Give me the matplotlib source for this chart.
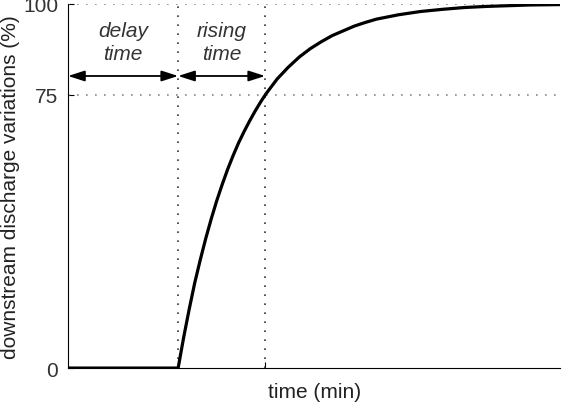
import matplotlib
matplotlib.use("Agg")
import matplotlib.pyplot as plt

plt.rcParams["font.family"] = ["Liberation Sans", "DejaVu Sans"]

# values (time in arbitrary minutes, discharge in %)
time = [0, 10, 10.5, 11, 11.5, 12, 12.5, 13, 13.5, 14, 14.5, 15, 15.5, 16, 16.5,
        17, 17.5, 18, 19, 20, 21, 22, 23, 24, 25, 26, 27, 28, 30, 32, 34, 36,
        38, 40, 42, 44.7]
discharge = [0, 0, 8.4, 16.1, 23.3, 29.6, 35.5, 40.9, 45.9, 50.4, 54.6, 58.4,
             61.9, 65.0, 67.9, 70.6, 73.1, 75.4, 79.4, 82.6, 85.4, 87.7, 89.6,
             91.3, 92.6, 93.9, 94.9, 95.8, 97.0, 97.9, 98.5, 99.0, 99.3, 99.5,
             99.7, 99.8]

delay_end = 10
rise_end = 17.9
x_max = 44.7
y_ticks = [0, 75, 100]

fig = plt.figure(figsize=(5.67, 4.06), dpi=100)
ax = fig.add_axes([0.12, 0.091, 0.868, 0.897])

dots = (0, (1, 4.4))
# reference dotted lines
ax.plot([0, x_max], [75, 75], linestyle=dots, color="#888888", lw=1.2)
ax.plot([0, x_max], [100, 100], linestyle=dots, color="#888888", lw=1.2)
ax.plot([delay_end, delay_end], [0, 100], linestyle=dots, color="#333333", lw=1.2)
ax.plot([rise_end, rise_end], [0, 100], linestyle=dots, color="#333333", lw=1.2)

# discharge curve
ax.plot(time, discharge, color="black", lw=2.3, solid_capstyle="butt",
        solid_joinstyle="round", zorder=5)

# double arrows
arrow_y = 80.2
for x0, x1 in [(0, delay_end), (delay_end, rise_end)]:
    ax.annotate("", xy=(x1, arrow_y), xytext=(x0, arrow_y),
                arrowprops=dict(arrowstyle="<|-|>,head_length=1.0,head_width=0.32",
                                color="black", lw=1.3, shrinkA=0, shrinkB=0))

ax.text(delay_end / 2, 89.6, "delay\ntime", ha="center", va="center",
        style="italic", fontsize=15, color="#333333", linespacing=1.25)
ax.text((delay_end + rise_end) / 2, 89.6, "rising\ntime", ha="center", va="center",
        style="italic", fontsize=15, color="#333333", linespacing=1.25)

ax.set_xlim(0, x_max)
ax.set_ylim(0, 100)
ax.set_yticks(y_ticks)
ax.set_xticks([rise_end])
ax.set_xticklabels([])
ax.tick_params(direction="in", labelsize=15, length=4, labelcolor="#333333", pad=7)
ax.spines["top"].set_visible(False)
ax.spines["right"].set_visible(False)

ax.set_xlabel("time (min)", fontsize=15, labelpad=3, color="#222222")
ax.set_ylabel("downstream discharge variations (%)", fontsize=15, labelpad=2,
              color="#222222")

fig.savefig("out.png", dpi=100)
